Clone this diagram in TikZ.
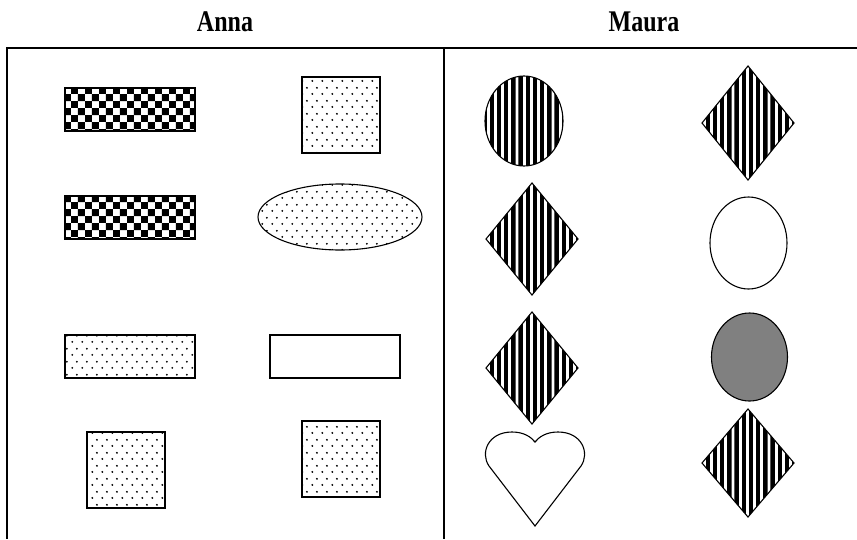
\documentclass[tikz,border=0pt]{standalone}
\usepackage{fontspec}
\setmainfont{Liberation Serif}
\usetikzlibrary{patterns}

% fill patterns
\pgfdeclarepatternformonly{checks}{\pgfqpoint{0pt}{0pt}}{\pgfqpoint{14.4pt}{14.4pt}}{\pgfqpoint{14.4pt}{14.4pt}}{%
  \pgfpathrectangle{\pgfqpoint{0pt}{0pt}}{\pgfqpoint{7.2pt}{7.2pt}}%
  \pgfpathrectangle{\pgfqpoint{7.2pt}{7.2pt}}{\pgfqpoint{7.2pt}{7.2pt}}%
  \pgfusepath{fill}}
\pgfdeclarepatternformonly{speckles}{\pgfqpoint{0pt}{0pt}}{\pgfqpoint{10pt}{13pt}}{\pgfqpoint{10pt}{13pt}}{%
  \pgfpathcircle{\pgfqpoint{2.5pt}{3.25pt}}{1.1pt}%
  \pgfpathcircle{\pgfqpoint{7.5pt}{9.75pt}}{1.1pt}%
  \pgfusepath{fill}}
\pgfdeclarepatternformonly{bars}{\pgfqpoint{0pt}{0pt}}{\pgfqpoint{4.4pt}{1pt}}{\pgfqpoint{7.2pt}{1pt}}{%
  \pgfpathrectangle{\pgfqpoint{0pt}{0pt}}{\pgfqpoint{4.4pt}{1pt}}%
  \pgfusepath{fill}}

\begin{document}
\begin{tikzpicture}[
  x=1pt, y=-1pt,
  outline/.style={draw, line width=1.1pt},
  checked/.style={outline, pattern=checks},
  speckled/.style={outline, pattern=speckles},
  striped/.style={outline, pattern=bars},
  title/.style={font=\bfseries\fontsize{24}{24}\selectfont},
]
\useasboundingbox (0,0) rectangle (857,539);
% frame
\draw[line width=1.2pt] (857,48) -- (7,48) -- (7,539);
\draw[line width=1.2pt] (444,48) -- (444,539);
% titles
\node[title] (anna) at (225,22) {\scalebox{1}[1.25]{Anna}};
\node[title] (maura) at (644,22) {\scalebox{1}[1.25]{Maura}};

% Anna
\draw[checked] (65,88) rectangle (195,131);
\draw[speckled] (302,77) rectangle (380,153);
\draw[checked] (65,196) rectangle (195,239);
\draw[speckled] (340,217) ellipse [x radius=82, y radius=33];
\draw[speckled] (65,335) rectangle (195,378);
\draw[outline] (270,335) rectangle (400,378);
\draw[speckled] (87,432) rectangle (165,508);
\draw[speckled] (302,421) rectangle (380,497);

% Maura
\draw[striped] (524,121) ellipse [x radius=39, y radius=45];
\foreach \cx/\cy/\hh in {748/123/57, 532/239/56, 532/368/56, 748/463/54}
  \draw[striped] ({\cx-46},\cy) -- (\cx,{\cy-\hh}) -- ({\cx+46},\cy)
    -- (\cx,{\cy+\hh}) -- cycle;
\draw[outline] (748.5,243) ellipse [x radius=38.5, y radius=46];
\draw[outline, fill=black!50] (749.5,357) ellipse [x radius=38, y radius=44];
\draw[outline] (535,526) -- (489,466)
  .. controls (480,453) and (488,432) .. (512,432)
  .. controls (524,432) and (531,437) .. (535,442)
  .. controls (539,437) and (546,432) .. (558,432)
  .. controls (582,432) and (590,453) .. (581,466) -- cycle;
\end{tikzpicture}
\end{document}
